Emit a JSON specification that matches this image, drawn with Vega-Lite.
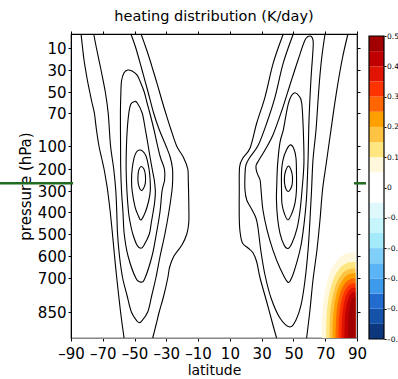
{
"$schema":"https://vega.github.io/schema/vega-lite/v6.json",
"width":286,"height":304,
"autosize":{"type":"none"},
"padding":{"left":71,"top":34,"right":41,"bottom":41},
"background":"white",
"title":{"text":"heating distribution (K/day)","font":"DejaVu Sans","fontSize":14.5,"fontWeight":"normal","color":"black","anchor":"middle","offset":6},
"config":{"view":{"stroke":"black","strokeWidth":1.2},"font":"DejaVu Sans",
 "axis":{"labelFont":"DejaVu Sans","titleFont":"DejaVu Sans","labelColor":"black","titleColor":"black","tickColor":"black","domainColor":"black","grid":false,"labelFontSize":15,"titleFontSize":15,"titleFontWeight":"normal","tickSize":3,"labelFlush":false,"labelOverlap":false}},
"datasets":{
"open":[
{"c":"L6a","i":0,"p":0,"lat":-83.7},{"c":"L6a","i":1,"p":10,"lat":-82.7},{"c":"L6a","i":2,"p":20,"lat":-81.9},{"c":"L6a","i":3,"p":30,"lat":-80.8},{"c":"L6a","i":4,"p":40,"lat":-79.6},{"c":"L6a","i":5,"p":50,"lat":-78.2},{"c":"L6a","i":6,"p":60,"lat":-76.8},{"c":"L6a","i":7,"p":70,"lat":-75.3},{"c":"L6a","i":8,"p":85,"lat":-74.0},{"c":"L6a","i":9,"p":100,"lat":-72.4},{"c":"L6a","i":10,"p":150,"lat":-70.8},{"c":"L6a","i":11,"p":200,"lat":-69.2},{"c":"L6a","i":12,"p":250,"lat":-68.0},{"c":"L6a","i":13,"p":300,"lat":-66.9},{"c":"L6a","i":14,"p":400,"lat":-65.3},{"c":"L6a","i":15,"p":500,"lat":-63.9},{"c":"L6a","i":16,"p":600,"lat":-62.6},{"c":"L6a","i":17,"p":700,"lat":-61.2},{"c":"L6a","i":18,"p":850,"lat":-58.8},{"c":"L6a","i":19,"p":1000,"lat":-56.6},
{"c":"L6b","i":0,"p":0,"lat":-45.9},{"c":"L6b","i":1,"p":10,"lat":-42.8},{"c":"L6b","i":2,"p":20,"lat":-40.5},{"c":"L6b","i":3,"p":30,"lat":-38.4},{"c":"L6b","i":4,"p":40,"lat":-36.3},{"c":"L6b","i":5,"p":50,"lat":-34.3},{"c":"L6b","i":6,"p":60,"lat":-32.4},{"c":"L6b","i":7,"p":70,"lat":-30.4},{"c":"L6b","i":8,"p":85,"lat":-27.1},{"c":"L6b","i":9,"p":100,"lat":-23.5},{"c":"L6b","i":10,"p":150,"lat":-19.2},{"c":"L6b","i":11,"p":200,"lat":-16.5},{"c":"L6b","i":12,"p":250,"lat":-16.2},{"c":"L6b","i":13,"p":300,"lat":-16.0},{"c":"L6b","i":14,"p":400,"lat":-15.8},{"c":"L6b","i":15,"p":450,"lat":-15.9},{"c":"L6b","i":16,"p":500,"lat":-17.1},{"c":"L6b","i":17,"p":550,"lat":-20.2},{"c":"L6b","i":18,"p":600,"lat":-25.2},{"c":"L6b","i":19,"p":650,"lat":-27.9},{"c":"L6b","i":20,"p":700,"lat":-29.1},{"c":"L6b","i":21,"p":775,"lat":-31.5},{"c":"L6b","i":22,"p":850,"lat":-34.5},{"c":"L6b","i":23,"p":925,"lat":-36.5},{"c":"L6b","i":24,"p":1000,"lat":-38.6},
{"c":"L5","i":0,"p":0,"lat":-75.7},{"c":"L5","i":1,"p":10,"lat":-74.0},{"c":"L5","i":2,"p":30,"lat":-71.1},{"c":"L5","i":3,"p":50,"lat":-68.4},{"c":"L5","i":4,"p":70,"lat":-66.6},{"c":"L5","i":5,"p":100,"lat":-65.1},{"c":"L5","i":6,"p":200,"lat":-63.1},{"c":"L5","i":7,"p":300,"lat":-61.8},{"c":"L5","i":8,"p":400,"lat":-61.2},{"c":"L5","i":9,"p":500,"lat":-60.7},{"c":"L5","i":10,"p":600,"lat":-59.5},{"c":"L5","i":11,"p":700,"lat":-57.5},{"c":"L5","i":12,"p":775,"lat":-54.8},{"c":"L5","i":13,"p":850,"lat":-52.0},{"c":"L5","i":14,"p":902,"lat":-48.5},{"c":"L5","i":15,"p":911,"lat":-47.0},{"c":"L5","i":16,"p":906,"lat":-45.9},{"c":"L5","i":17,"p":850,"lat":-41.7},{"c":"L5","i":18,"p":775,"lat":-39.1},{"c":"L5","i":19,"p":700,"lat":-36.6},{"c":"L5","i":20,"p":600,"lat":-33.9},{"c":"L5","i":21,"p":500,"lat":-30.9},{"c":"L5","i":22,"p":400,"lat":-28.4},{"c":"L5","i":23,"p":300,"lat":-26.5},{"c":"L5","i":24,"p":250,"lat":-26.0},{"c":"L5","i":25,"p":200,"lat":-26.1},{"c":"L5","i":26,"p":150,"lat":-27.5},{"c":"L5","i":27,"p":100,"lat":-30.2},{"c":"L5","i":28,"p":85,"lat":-34.5},{"c":"L5","i":29,"p":70,"lat":-38.0},{"c":"L5","i":30,"p":50,"lat":-41.5},{"c":"L5","i":31,"p":30,"lat":-45.3},{"c":"L5","i":32,"p":10,"lat":-49.2},{"c":"L5","i":33,"p":0,"lat":-52.3},
{"c":"C5R","i":0,"p":0,"lat":49.9},{"c":"C5R","i":1,"p":23.6,"lat":43.6},{"c":"C5R","i":2,"p":54.8,"lat":38.4},{"c":"C5R","i":3,"p":79.1,"lat":33.2},{"c":"C5R","i":4,"p":99.1,"lat":27.9},{"c":"C5R","i":5,"p":147.8,"lat":22.7},{"c":"C5R","i":6,"p":182.6,"lat":20.1},{"c":"C5R","i":7,"p":227.3,"lat":19.5},{"c":"C5R","i":8,"p":295.5,"lat":19.5},{"c":"C5R","i":9,"p":342.9,"lat":20.6},{"c":"C5R","i":10,"p":381,"lat":23.3},{"c":"C5R","i":11,"p":427.3,"lat":26.4},{"c":"C5R","i":12,"p":472.7,"lat":27.7},{"c":"C5R","i":13,"p":581.8,"lat":29.6},{"c":"C5R","i":14,"p":686.4,"lat":32.1},{"c":"C5R","i":15,"p":788.2,"lat":35.9},{"c":"C5R","i":16,"p":884.6,"lat":41.5},{"c":"C5R","i":17,"p":936.5,"lat":47.8},{"c":"C5R","i":18,"p":896.2,"lat":51.6},{"c":"C5R","i":19,"p":819.1,"lat":54.8},{"c":"C5R","i":20,"p":708.8,"lat":57.3},{"c":"C5R","i":21,"p":572.7,"lat":59.2},{"c":"C5R","i":22,"p":436.4,"lat":60.4},{"c":"C5R","i":23,"p":295.5,"lat":61.4},{"c":"C5R","i":24,"p":160.9,"lat":62.3},{"c":"C5R","i":25,"p":85.5,"lat":64.2},{"c":"C5R","i":26,"p":57.6,"lat":65.5},{"c":"C5R","i":27,"p":34.5,"lat":66.7},{"c":"C5R","i":28,"p":16.4,"lat":68.0},{"c":"C5R","i":29,"p":0,"lat":69.9},
{"c":"C6Ra","i":0,"p":0,"lat":43.6},{"c":"C6Ra","i":1,"p":23.6,"lat":37.3},{"c":"C6Ra","i":2,"p":54.8,"lat":32.1},{"c":"C6Ra","i":3,"p":79.1,"lat":26.9},{"c":"C6Ra","i":4,"p":108.7,"lat":22.7},{"c":"C6Ra","i":5,"p":152.2,"lat":18.2},{"c":"C6Ra","i":6,"p":191.3,"lat":16.1},{"c":"C6Ra","i":7,"p":295.5,"lat":15.9},{"c":"C6Ra","i":8,"p":427.3,"lat":15.9},{"c":"C6Ra","i":9,"p":490.9,"lat":16.4},{"c":"C6Ra","i":10,"p":540.9,"lat":17.9},{"c":"C6Ra","i":11,"p":563.6,"lat":21.4},{"c":"C6Ra","i":12,"p":586.4,"lat":24.6},{"c":"C6Ra","i":13,"p":627.3,"lat":26.9},{"c":"C6Ra","i":14,"p":700,"lat":29.0},{"c":"C6Ra","i":15,"p":805.9,"lat":33.2},{"c":"C6Ra","i":16,"p":925,"lat":37.1},{"c":"C6Ra","i":17,"p":1000,"lat":39.4},
{"c":"C6Rb","i":0,"p":0,"lat":84.3},{"c":"C6Rb","i":1,"p":20.9,"lat":80.6},{"c":"C6Rb","i":2,"p":52.9,"lat":76.8},{"c":"C6Rb","i":3,"p":85.5,"lat":73.6},{"c":"C6Rb","i":4,"p":182.6,"lat":70.5},{"c":"C6Rb","i":5,"p":295.5,"lat":68.3},{"c":"C6Rb","i":6,"p":436.4,"lat":66.7},{"c":"C6Rb","i":7,"p":572.7,"lat":64.8},{"c":"C6Rb","i":8,"p":708.8,"lat":62.3},{"c":"C6Rb","i":9,"p":841.2,"lat":60.4},{"c":"C6Rb","i":10,"p":1000,"lat":58.3}
],
"loops":[
{"c":"C4L","i":0,"p":30,"lat":-54.3},{"c":"C4L","i":1,"p":31,"lat":-51.6},{"c":"C4L","i":2,"p":34.5,"lat":-48.5},{"c":"C4L","i":3,"p":40,"lat":-46.6},{"c":"C4L","i":4,"p":50,"lat":-43.9},{"c":"C4L","i":5,"p":60,"lat":-42.2},{"c":"C4L","i":6,"p":70,"lat":-40.4},{"c":"C4L","i":7,"p":85,"lat":-37.8},{"c":"C4L","i":8,"p":100,"lat":-35.5},{"c":"C4L","i":9,"p":150,"lat":-33.7},{"c":"C4L","i":10,"p":200,"lat":-31.2},{"c":"C4L","i":11,"p":250,"lat":-31.1},{"c":"C4L","i":12,"p":300,"lat":-32.7},{"c":"C4L","i":13,"p":400,"lat":-34.0},{"c":"C4L","i":14,"p":500,"lat":-36.3},{"c":"C4L","i":15,"p":600,"lat":-39.0},{"c":"C4L","i":16,"p":700,"lat":-43.4},{"c":"C4L","i":17,"p":718,"lat":-45.9},{"c":"C4L","i":18,"p":700,"lat":-49.2},{"c":"C4L","i":19,"p":600,"lat":-54.1},{"c":"C4L","i":20,"p":500,"lat":-56.5},{"c":"C4L","i":21,"p":400,"lat":-57.3},{"c":"C4L","i":22,"p":300,"lat":-58.2},{"c":"C4L","i":23,"p":200,"lat":-58.7},{"c":"C4L","i":24,"p":100,"lat":-58.8},{"c":"C4L","i":25,"p":70,"lat":-58.9},{"c":"C4L","i":26,"p":50,"lat":-58.6},{"c":"C4L","i":27,"p":40,"lat":-58.2},{"c":"C4L","i":28,"p":32.7,"lat":-56.7},
{"c":"C3L","i":0,"p":59.2,"lat":-50.2},{"c":"C3L","i":1,"p":60,"lat":-48.5},{"c":"C3L","i":2,"p":70,"lat":-45.2},{"c":"C3L","i":3,"p":85,"lat":-43.2},{"c":"C3L","i":4,"p":100,"lat":-41.4},{"c":"C3L","i":5,"p":150,"lat":-40.2},{"c":"C3L","i":6,"p":200,"lat":-38.9},{"c":"C3L","i":7,"p":250,"lat":-37.6},{"c":"C3L","i":8,"p":300,"lat":-36.9},{"c":"C3L","i":9,"p":350,"lat":-37.3},{"c":"C3L","i":10,"p":400,"lat":-38.3},{"c":"C3L","i":11,"p":450,"lat":-39.5},{"c":"C3L","i":12,"p":500,"lat":-40.7},{"c":"C3L","i":13,"p":550,"lat":-44.0},{"c":"C3L","i":14,"p":565,"lat":-45.9},{"c":"C3L","i":15,"p":550,"lat":-48.5},{"c":"C3L","i":16,"p":500,"lat":-51.1},{"c":"C3L","i":17,"p":450,"lat":-52.7},{"c":"C3L","i":18,"p":400,"lat":-53.8},{"c":"C3L","i":19,"p":300,"lat":-54.8},{"c":"C3L","i":20,"p":200,"lat":-55.3},{"c":"C3L","i":21,"p":100,"lat":-55.1},{"c":"C3L","i":22,"p":85,"lat":-54.6},{"c":"C3L","i":23,"p":70,"lat":-53.6},{"c":"C3L","i":24,"p":61.4,"lat":-52.3},
{"c":"C2L","i":0,"p":117.4,"lat":-46.9},{"c":"C2L","i":1,"p":122,"lat":-45.0},{"c":"C2L","i":2,"p":143.5,"lat":-42.8},{"c":"C2L","i":3,"p":200,"lat":-40.9},{"c":"C2L","i":4,"p":250,"lat":-40.2},{"c":"C2L","i":5,"p":300,"lat":-40.1},{"c":"C2L","i":6,"p":350,"lat":-41.2},{"c":"C2L","i":7,"p":400,"lat":-43.2},{"c":"C2L","i":8,"p":436,"lat":-45.9},{"c":"C2L","i":9,"p":414,"lat":-47.8},{"c":"C2L","i":10,"p":376,"lat":-49.7},{"c":"C2L","i":11,"p":300,"lat":-51.5},{"c":"C2L","i":12,"p":250,"lat":-51.9},{"c":"C2L","i":13,"p":200,"lat":-51.5},{"c":"C2L","i":14,"p":152,"lat":-50.3},{"c":"C2L","i":15,"p":126,"lat":-48.8},
{"c":"C1L","i":0,"p":189,"lat":-45.9},{"c":"C1L","i":1,"p":200,"lat":-44.1},{"c":"C1L","i":2,"p":227,"lat":-43.2},{"c":"C1L","i":3,"p":264,"lat":-43.2},{"c":"C1L","i":4,"p":289,"lat":-44.4},{"c":"C1L","i":5,"p":298,"lat":-45.6},{"c":"C1L","i":6,"p":286,"lat":-46.9},{"c":"C1L","i":7,"p":259,"lat":-47.8},{"c":"C1L","i":8,"p":227,"lat":-47.8},{"c":"C1L","i":9,"p":202,"lat":-47.2},
{"c":"C1R","i":0,"p":187,"lat":46.9},{"c":"C1R","i":1,"p":204.5,"lat":48.5},{"c":"C1R","i":2,"p":236,"lat":49.4},{"c":"C1R","i":3,"p":273,"lat":49.1},{"c":"C1R","i":4,"p":295.5,"lat":47.8},{"c":"C1R","i":5,"p":302,"lat":46.6},{"c":"C1R","i":6,"p":291,"lat":45.3},{"c":"C1R","i":7,"p":264,"lat":44.4},{"c":"C1R","i":8,"p":232,"lat":44.4},{"c":"C1R","i":9,"p":204.5,"lat":45.3},
{"c":"C2R","i":0,"p":99,"lat":48.2},{"c":"C2R","i":1,"p":113,"lat":50.3},{"c":"C2R","i":2,"p":152,"lat":51.6},{"c":"C2R","i":3,"p":214,"lat":51.9},{"c":"C2R","i":4,"p":295.5,"lat":51.9},{"c":"C2R","i":5,"p":357,"lat":51.0},{"c":"C2R","i":6,"p":404.5,"lat":49.1},{"c":"C2R","i":7,"p":436,"lat":46.6},{"c":"C2R","i":8,"p":409,"lat":44.4},{"c":"C2R","i":9,"p":362,"lat":42.8},{"c":"C2R","i":10,"p":295.5,"lat":42.5},{"c":"C2R","i":11,"p":214,"lat":42.5},{"c":"C2R","i":12,"p":161,"lat":43.4},{"c":"C2R","i":13,"p":117,"lat":45.6},
{"c":"C3R","i":0,"p":50.7,"lat":51.0},{"c":"C3R","i":1,"p":53.8,"lat":53.5},{"c":"C3R","i":2,"p":60.5,"lat":55.2},{"c":"C3R","i":3,"p":85.5,"lat":56.2},{"c":"C3R","i":4,"p":174,"lat":56.6},{"c":"C3R","i":5,"p":295.5,"lat":55.4},{"c":"C3R","i":6,"p":390.5,"lat":54.2},{"c":"C3R","i":7,"p":473,"lat":52.3},{"c":"C3R","i":8,"p":541,"lat":49.1},{"c":"C3R","i":9,"p":566,"lat":46.6},{"c":"C3R","i":10,"p":550,"lat":44.1},{"c":"C3R","i":11,"p":495.5,"lat":41.5},{"c":"C3R","i":12,"p":427,"lat":40.0},{"c":"C3R","i":13,"p":343,"lat":39.3},{"c":"C3R","i":14,"p":273,"lat":39.5},{"c":"C3R","i":15,"p":183,"lat":40.0},{"c":"C3R","i":16,"p":97,"lat":41.5},{"c":"C3R","i":17,"p":85.5,"lat":43.6},{"c":"C3R","i":18,"p":72,"lat":45.3},{"c":"C3R","i":19,"p":61,"lat":46.8},{"c":"C3R","i":20,"p":53.4,"lat":48.8},
{"c":"C4R","i":0,"p":1.4,"lat":60.4},{"c":"C4R","i":1,"p":4.3,"lat":57.3},{"c":"C4R","i":2,"p":20.9,"lat":52.9},{"c":"C4R","i":3,"p":43.6,"lat":47.8},{"c":"C4R","i":4,"p":67.1,"lat":42.8},{"c":"C4R","i":5,"p":90,"lat":37.1},{"c":"C4R","i":6,"p":117.4,"lat":32.1},{"c":"C4R","i":7,"p":161,"lat":28.3},{"c":"C4R","i":8,"p":187,"lat":26.4},{"c":"C4R","i":9,"p":218,"lat":27.1},{"c":"C4R","i":10,"p":250,"lat":29.0},{"c":"C4R","i":11,"p":295.5,"lat":29.6},{"c":"C4R","i":12,"p":390.5,"lat":30.8},{"c":"C4R","i":13,"p":482,"lat":33.4},{"c":"C4R","i":14,"p":573,"lat":37.1},{"c":"C4R","i":15,"p":654.5,"lat":41.5},{"c":"C4R","i":16,"p":717.6,"lat":46.3},{"c":"C4R","i":17,"p":695.5,"lat":49.1},{"c":"C4R","i":18,"p":627,"lat":52.2},{"c":"C4R","i":19,"p":550,"lat":54.8},{"c":"C4R","i":20,"p":459,"lat":56.6},{"c":"C4R","i":21,"p":367,"lat":57.9},{"c":"C4R","i":22,"p":295.5,"lat":58.5},{"c":"C4R","i":23,"p":161,"lat":59.2},{"c":"C4R","i":24,"p":76.4,"lat":59.8},{"c":"C4R","i":25,"p":39.1,"lat":61.0},{"c":"C4R","i":26,"p":11.8,"lat":62.3},{"c":"C4R","i":27,"p":4.3,"lat":62.3}
],
"blob":[
{"lo":0.05,"p":1000,"lat":67.8},{"lo":0.05,"p":851.7,"lat":68.2},{"lo":0.05,"p":775.7,"lat":69.4},{"lo":0.05,"p":719,"lat":71.1},{"lo":0.05,"p":660.9,"lat":73.9},{"lo":0.05,"p":622.3,"lat":77.2},{"lo":0.05,"p":598.6,"lat":80.7},{"lo":0.05,"p":587.3,"lat":84.1},{"lo":0.05,"p":583.2,"lat":89},
{"lo":0.1,"p":1000,"lat":70.5},{"lo":0.1,"p":867.9,"lat":70.9},{"lo":0.1,"p":796.4,"lat":71.9},{"lo":0.1,"p":745.9,"lat":73.3},{"lo":0.1,"p":695.5,"lat":75.8},{"lo":0.1,"p":660.5,"lat":78.7},{"lo":0.1,"p":640,"lat":81.7},{"lo":0.1,"p":629.5,"lat":84.8},{"lo":0.1,"p":625.9,"lat":89},
{"lo":0.15,"p":1000,"lat":72.7},{"lo":0.15,"p":879.4,"lat":73.0},{"lo":0.15,"p":811,"lat":73.9},{"lo":0.15,"p":764.9,"lat":75.2},{"lo":0.15,"p":718.5,"lat":77.4},{"lo":0.15,"p":687.7,"lat":79.9},{"lo":0.15,"p":668.6,"lat":82.6},{"lo":0.15,"p":659.1,"lat":85.3},{"lo":0.15,"p":655.9,"lat":89},
{"lo":0.2,"p":1000,"lat":74.6},{"lo":0.2,"p":888.1,"lat":74.9},{"lo":0.2,"p":822,"lat":75.7},{"lo":0.2,"p":779,"lat":76.8},{"lo":0.2,"p":736.2,"lat":78.7},{"lo":0.2,"p":707.9,"lat":81.0},{"lo":0.2,"p":689.5,"lat":83.3},{"lo":0.2,"p":680.5,"lat":85.7},{"lo":0.2,"p":677.7,"lat":89},
{"lo":0.25,"p":1000,"lat":76.5},{"lo":0.25,"p":896.7,"lat":76.8},{"lo":0.25,"p":833,"lat":77.4},{"lo":0.25,"p":793.5,"lat":78.4},{"lo":0.25,"p":753.8,"lat":80.1},{"lo":0.25,"p":727.8,"lat":82.0},{"lo":0.25,"p":711.9,"lat":84.1},{"lo":0.25,"p":704,"lat":86.1},{"lo":0.25,"p":701.3,"lat":89},
{"lo":0.3,"p":1000,"lat":78.4},{"lo":0.3,"p":905.4,"lat":78.6},{"lo":0.3,"p":844,"lat":79.2},{"lo":0.3,"p":807.6,"lat":80.0},{"lo":0.3,"p":771.5,"lat":81.5},{"lo":0.3,"p":747.6,"lat":83.1},{"lo":0.3,"p":733.1,"lat":84.8},{"lo":0.3,"p":725.6,"lat":86.6},{"lo":0.3,"p":723.4,"lat":89},
{"lo":0.35,"p":1000,"lat":80.2},{"lo":0.35,"p":912.6,"lat":80.4},{"lo":0.35,"p":854.3,"lat":80.9},{"lo":0.35,"p":819.7,"lat":81.6},{"lo":0.35,"p":786.5,"lat":82.7},{"lo":0.35,"p":764.2,"lat":84.1},{"lo":0.35,"p":750.7,"lat":85.5},{"lo":0.35,"p":744.1,"lat":87.0},{"lo":0.35,"p":741.9,"lat":89},
{"lo":0.4,"p":1000,"lat":82.1},{"lo":0.4,"p":920.4,"lat":82.2},{"lo":0.4,"p":867.3,"lat":82.6},{"lo":0.4,"p":832.8,"lat":83.2},{"lo":0.4,"p":802.4,"lat":84.1},{"lo":0.4,"p":782.1,"lat":85.2},{"lo":0.4,"p":769.7,"lat":86.3},{"lo":0.4,"p":764,"lat":87.4},{"lo":0.4,"p":761.8,"lat":89},
{"lo":0.45,"p":1000,"lat":84.3},{"lo":0.45,"p":929,"lat":84.4},{"lo":0.45,"p":881.7,"lat":84.7},{"lo":0.45,"p":847.1,"lat":85.0},{"lo":0.45,"p":820,"lat":85.7},{"lo":0.45,"p":801.9,"lat":86.4},{"lo":0.45,"p":790.9,"lat":87.2},{"lo":0.45,"p":785.6,"lat":87.9},{"lo":0.45,"p":783.8,"lat":89}
],
"bar":[
{"lo":-0.5,"hi":-0.45},{"lo":-0.45,"hi":-0.4},{"lo":-0.4,"hi":-0.35},{"lo":-0.35,"hi":-0.3},{"lo":-0.3,"hi":-0.25},{"lo":-0.25,"hi":-0.2},{"lo":-0.2,"hi":-0.15},{"lo":-0.15,"hi":-0.1},{"lo":-0.1,"hi":-0.05},{"lo":-0.05,"hi":0},
{"lo":0,"hi":0.05},{"lo":0.05,"hi":0.1},{"lo":0.1,"hi":0.15},{"lo":0.15,"hi":0.2},{"lo":0.2,"hi":0.25},{"lo":0.25,"hi":0.3},{"lo":0.3,"hi":0.35},{"lo":0.35,"hi":0.4},{"lo":0.4,"hi":0.45},{"lo":0.45,"hi":0.5}
],
"green":[{"side":"L","lat":-136,"lat2":-88.7,"p":265},{"side":"R","lat":88.1,"lat2":95.7,"p":265}]
},
"resolve":{"scale":{"x":"independent","y":"independent"}},
"layer":[
{
 "encoding":{
  "x":{"field":"lat","type":"quantitative","scale":{"domain":[-90,90],"range":[0,286],"nice":false,"zero":false},
   "axis":{"orient":"bottom","values":[-90,-70,-50,-30,-10,10,30,50,70,90],"labelExpr":"datum.value < 0 ? '–' + abs(datum.value) : datum.label","title":"latitude","titleFontSize":14,"domainColor":"#888888","labelPadding":5,"titlePadding":2,"labelOverlap":false}},
  "y":{"field":"p","type":"quantitative","scale":{"domain":[0,10,30,50,70,100,200,300,400,500,600,700,850,1000],"range":[0,14,36,58,79,112,135,157,178,200,222,244,278,304],"nice":false,"zero":false},
   "axis":{"orient":"left","values":[10,30,50,70,100,200,300,400,500,600,700,850],"format":"d","title":"pressure (hPa)","labelPadding":2,"titlePadding":4,"labelOverlap":false}}
 },
 "layer":[
  {"data":{"name":"blob"},
   "encoding":{"x2":{"datum":89},"color":{"field":"lo","type":"ordinal","legend":null,
     "scale":{"domain":[-0.5,-0.45,-0.4,-0.35,-0.3,-0.25,-0.2,-0.15,-0.1,-0.05,0,0.05,0.1,0.15,0.2,0.25,0.3,0.35,0.4,0.45],
      "range":["#0c377d","#1553ab","#226cd0","#3e9bec","#5ab4f5","#80cff9","#a3ebfa","#c6f5fb","#dff8fc","#ffffff","#ffffff","#fff8dc","#ffe680","#ffc344","#ffa000","#ff6500","#ff3300","#e01400","#c00000","#a00000"]}}},
   "layer":[
    {"transform":[{"filter":"datum.lo == 0.05"}],"mark":{"type":"area","orient":"horizontal","interpolate":"monotone"}},
    {"transform":[{"filter":"datum.lo == 0.1"}],"mark":{"type":"area","orient":"horizontal","interpolate":"monotone"}},
    {"transform":[{"filter":"datum.lo == 0.15"}],"mark":{"type":"area","orient":"horizontal","interpolate":"monotone"}},
    {"transform":[{"filter":"datum.lo == 0.2"}],"mark":{"type":"area","orient":"horizontal","interpolate":"monotone"}},
    {"transform":[{"filter":"datum.lo == 0.25"}],"mark":{"type":"area","orient":"horizontal","interpolate":"monotone"}},
    {"transform":[{"filter":"datum.lo == 0.3"}],"mark":{"type":"area","orient":"horizontal","interpolate":"monotone"}},
    {"transform":[{"filter":"datum.lo == 0.35"}],"mark":{"type":"area","orient":"horizontal","interpolate":"monotone"}},
    {"transform":[{"filter":"datum.lo == 0.4"}],"mark":{"type":"area","orient":"horizontal","interpolate":"monotone"}},
    {"transform":[{"filter":"datum.lo == 0.45"}],"mark":{"type":"area","orient":"horizontal","interpolate":"monotone"}}
   ]},
  {"data":{"name":"open"},"mark":{"type":"line","interpolate":"cardinal","color":"black","strokeWidth":1.1},
   "encoding":{"detail":{"field":"c","type":"nominal"},"order":{"field":"i","type":"quantitative"}}},
  {"data":{"name":"loops"},"mark":{"type":"line","interpolate":"cardinal-closed","color":"black","strokeWidth":1.1},
   "encoding":{"detail":{"field":"c","type":"nominal"},"order":{"field":"i","type":"quantitative"}}}
 ]
},
{
 "data":{"name":"green"},
 "mark":{"type":"rule","color":"#1f6b1f","strokeWidth":2.5},
 "encoding":{
  "x":{"field":"lat","type":"quantitative","scale":{"domain":[-90,90],"range":[0,286],"nice":false,"zero":false},
   "axis":{"orient":"top","labels":false,"title":null,"domain":false,"values":[-90,-70,-50,-30,-10,10,30,50,70,90]}},
  "x2":{"field":"lat2"},
  "y":{"field":"p","type":"quantitative","scale":{"domain":[0,10,30,50,70,100,200,300,400,500,600,700,850,1000],"range":[0,14,36,58,79,112,135,157,178,200,222,244,278,304],"nice":false,"zero":false},
   "axis":{"orient":"right","labels":false,"title":null,"domain":false,"values":[10,30,50,70,100,200,300,400,500,600,700,850]}}
 }
},
{
 "data":{"name":"bar"},"mark":{"type":"rect"},
 "encoding":{
  "y":{"field":"lo","type":"quantitative","scale":{"domain":[-0.5,0.5],"range":[305,2],"nice":false,"zero":false},
   "axis":{"orient":"right","offset":27,"values":[-0.5,-0.4,-0.3,-0.2,-0.1,0,0.1,0.2,0.3,0.4,0.5],"labelExpr":"datum.value < 0 ? '–' + format(abs(datum.value), '.1f') : (datum.value == 0 ? '0' : format(datum.value, '.1f'))","labelFontSize":7.5,"tickSize":2,"labelPadding":0.5,"domain":false,"title":null,"labelOverlap":false,"labelSeparation":0,"labelBound":false}},
  "y2":{"field":"hi"},
  "x":{"datum":0,"type":"quantitative","scale":{"domain":[0,1],"range":[298,313],"nice":false,"zero":false},"axis":null},
  "x2":{"datum":1},
  "color":{"field":"lo","type":"ordinal","legend":null,
   "scale":{"domain":[-0.5,-0.45,-0.4,-0.35,-0.3,-0.25,-0.2,-0.15,-0.1,-0.05,0,0.05,0.1,0.15,0.2,0.25,0.3,0.35,0.4,0.45],
    "range":["#0c377d","#1553ab","#226cd0","#3e9bec","#5ab4f5","#80cff9","#a3ebfa","#c6f5fb","#dff8fc","#ffffff","#ffffff","#fff8dc","#ffe680","#ffc344","#ffa000","#ff6500","#ff3300","#e01400","#c00000","#a00000"]}}
 }
},
{
 "data":{"values":[{"edge":"frame"}]},"mark":{"type":"rect","filled":false,"color":"black","strokeWidth":1.2},
 "encoding":{
  "y":{"datum":-0.5,"type":"quantitative","scale":{"domain":[-0.5,0.5],"range":[305,2],"nice":false,"zero":false},"axis":null},
  "y2":{"datum":0.5},
  "x":{"datum":0,"type":"quantitative","scale":{"domain":[0,1],"range":[298,313],"nice":false,"zero":false},"axis":null},
  "x2":{"datum":1}
 }
}
]
}
